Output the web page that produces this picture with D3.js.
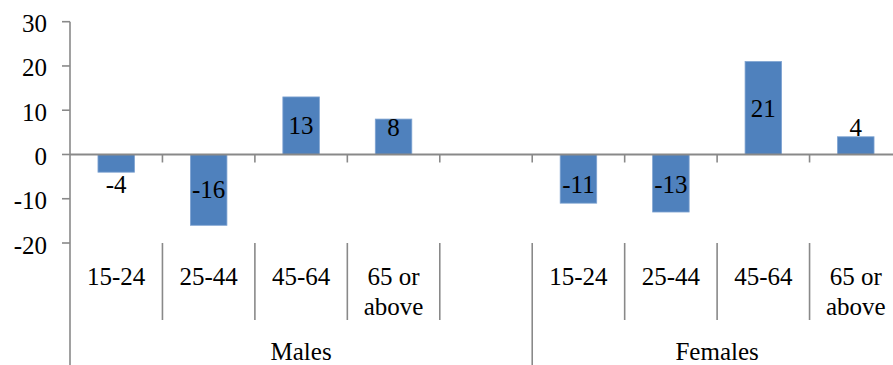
<!DOCTYPE html>
<html>
<head>
<meta charset="utf-8">
<script src="https://cdn.jsdelivr.net/npm/d3@7"></script>
</head>
<body style="margin:0">
<svg id="s" width="893" height="365"></svg>
<script>
// Percentage change by sex and age band
const groups = ["Males", "Females"];
const ageBands = ["15-24", "25-44", "45-64", "65 or above"];
const males = [-4, -16, 13, 8];
const females = [-11, -13, 21, 4];
const yTicks = [-20, -10, 0, 10, 20, 30];

const axisColor = "#898989";
const barColor = "#4F81BD";
const fontSize = 25;
const fontFam = "'Liberation Serif', 'DejaVu Serif'";

// Split a label into lines that fit a given width (measured with a canvas)
function wrapLines(text, maxW) {
  const ctx = document.createElement("canvas").getContext("2d");
  ctx.font = fontSize + "px " + fontFam;
  const lines = [];
  let cur = [];
  text.split(" ").forEach(w => {
    const trial = cur.concat([w]).join(" ");
    if (cur.length && ctx.measureText(trial).width > maxW) {
      lines.push(cur.join(" "));
      cur = [w];
    } else {
      cur.push(w);
    }
  });
  lines.push(cur.join(" "));
  return lines;
}

// Nine category slots: four male bands, an empty spacer, four female bands
const slots = [];
ageBands.forEach((a, i) => slots.push({ id: "M" + i, group: groups[0], band: a, value: males[i] }));
slots.push({ id: "M-gap", group: groups[0], band: "", value: null });
ageBands.forEach((a, i) => slots.push({ id: "F" + i, group: groups[1], band: a, value: females[i] }));

const svg = d3.select("#s");
const x = d3.scaleBand().domain(slots.map(d => d.id)).range([70, 902]).padding(0);
const y = d3.scaleLinear().domain([-20, 30]).range([243, 21.7]);
const barW = x.bandwidth() * 0.395;
const cx = id => x(id) + x.bandwidth() / 2;

// Bars
svg.selectAll("rect.bar")
  .data(slots.filter(d => d.value !== null))
  .join("rect")
  .attr("class", "bar")
  .attr("x", d => cx(d.id) - barW / 2)
  .attr("y", d => y(Math.max(0, d.value)))
  .attr("width", barW)
  .attr("height", d => Math.abs(y(d.value) - y(0)))
  .attr("fill", barColor)
  .attr("stroke", "#7fa3d1")
  .attr("stroke-width", 0.8);

// Value axis line, continuing down as the left category divider
svg.append("line")
  .attr("x1", 70).attr("x2", 70)
  .attr("y1", y(30)).attr("y2", 365)
  .attr("stroke", axisColor).attr("stroke-width", 1.6);
svg.selectAll("line.ytick")
  .data(yTicks)
  .join("line")
  .attr("class", "ytick")
  .attr("x1", 62).attr("x2", 70)
  .attr("y1", d => y(d)).attr("y2", d => y(d))
  .attr("stroke", axisColor).attr("stroke-width", 1.6);

// Zero line with downward ticks at category boundaries
svg.append("line")
  .attr("x1", 70).attr("x2", 902)
  .attr("y1", y(0)).attr("y2", y(0))
  .attr("stroke", axisColor).attr("stroke-width", 2.2);
svg.selectAll("line.xtick")
  .data(slots.slice(1).map(d => x(d.id)).concat([x.range()[1]]))
  .join("line")
  .attr("class", "xtick")
  .attr("x1", d => d).attr("x2", d => d)
  .attr("y1", y(0)).attr("y2", y(0) + 8)
  .attr("stroke", axisColor).attr("stroke-width", 1.6);

// Category dividers below the plot
const groupEdges = [x.range()[0], x("F0"), x.range()[1]];
const innerEdges = slots.slice(1).map(d => x(d.id)).filter(v => !groupEdges.includes(v));
svg.selectAll("line.inner")
  .data(innerEdges)
  .join("line")
  .attr("class", "inner")
  .attr("x1", d => d).attr("x2", d => d)
  .attr("y1", y(-20)).attr("y2", 320)
  .attr("stroke", axisColor).attr("stroke-width", 1.6);
svg.selectAll("line.outer")
  .data(groupEdges.slice(1))
  .join("line")
  .attr("class", "outer")
  .attr("x1", d => d).attr("x2", d => d)
  .attr("y1", y(-20)).attr("y2", 365)
  .attr("stroke", axisColor).attr("stroke-width", 1.6);

// Tick labels on the value axis
svg.selectAll("text.ylab")
  .data(yTicks)
  .join("text")
  .attr("class", "ylab")
  .attr("x", 47)
  .attr("y", d => y(d) + 10.5)
  .attr("text-anchor", "end")
  .attr("font-size", fontSize)
  .style("font-family", fontFam)
  .text(d => d);

// Value labels
svg.selectAll("text.vlab")
  .data(slots.filter(d => d.value !== null))
  .join("text")
  .attr("class", "vlab")
  .attr("x", d => cx(d.id))
  .attr("y", d => {
    const mid = y(d.value / 2);
    const c = d.value >= 0 ? Math.min(mid, y(0) - 26.5) : Math.max(mid, y(0) + 30.5);
    return c + 8.5;
  })
  .attr("text-anchor", "middle")
  .attr("font-size", fontSize)
  .style("font-family", fontFam)
  .text(d => d.value);

// Age band labels, wrapped to the slot width
const bandLines = [];
slots.filter(d => d.band).forEach(d => {
  wrapLines(d.band, x.bandwidth() - 10).forEach((ln, i) => bandLines.push({ id: d.id, ln, i }));
});
svg.selectAll("text.band")
  .data(bandLines)
  .join("text")
  .attr("class", "band")
  .attr("x", d => cx(d.id))
  .attr("y", d => 285 + d.i * 29.5)
  .attr("text-anchor", "middle")
  .attr("font-size", fontSize)
  .style("font-family", fontFam)
  .text(d => d.ln);

// Group labels
svg.selectAll("text.group")
  .data(groups)
  .join("text")
  .attr("class", "group")
  .attr("x", (g, i) => (groupEdges[i] + groupEdges[i + 1]) / 2)
  .attr("y", 360)
  .attr("text-anchor", "middle")
  .attr("font-size", fontSize)
  .style("font-family", fontFam)
  .text(g => g);
</script>
</body>
</html>
